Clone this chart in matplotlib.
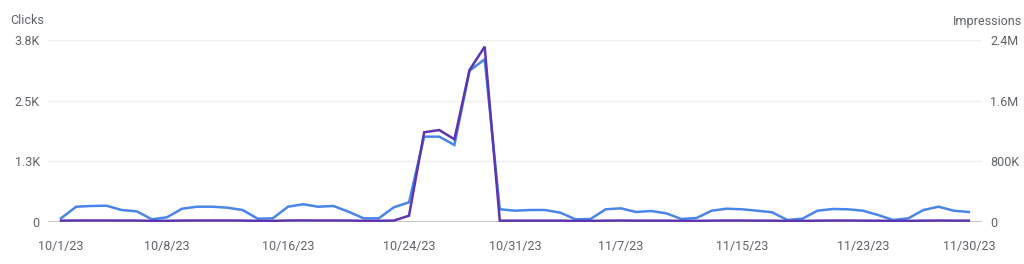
import pandas as pd
import matplotlib.pyplot as plt

plt.rcParams['font.family'] = ['Roboto', 'DejaVu Sans']

dates = pd.date_range('2023-10-01', '2023-11-30', freq='D')

clicks = [76, 315, 330, 336, 247, 220, 56, 97, 274, 315,
          315, 295, 247, 68, 76, 315, 365, 315, 330, 212,
          76, 76, 303, 406, 1758, 1758, 1587, 3118, 3352, 262,
          233, 247, 247, 192, 56, 62, 262, 282, 206, 227,
          179, 62, 82, 233, 274, 262, 233, 200, 41, 68,
          233, 268, 262, 233, 144, 41, 76, 247, 315, 233,
          206]

impressions = [18000, 20000, 20000, 20000, 19000, 19000, 15000, 16000, 19000, 20000,
               20000, 20000, 19000, 15000, 15000, 20000, 21000, 20000, 20000, 19000,
               16000, 16000, 19000, 83000, 1183000, 1213000, 1090000, 2004000, 2312000, 17000,
               18000, 18000, 18000, 18000, 15000, 15000, 18000, 19000, 18000, 18000,
               18000, 15000, 15000, 18000, 19000, 19000, 18000, 18000, 14000, 15000,
               18000, 19000, 19000, 18000, 17000, 14000, 15000, 18000, 19000, 18000,
               18000]

click_ticks = [0, 1250, 2500, 3750]
click_labels = ['0', '1.3K', '2.5K', '3.8K']
imp_ticks = [0, 800000, 1600000, 2400000]
imp_labels = ['0', '800K', '1.6M', '2.4M']
date_ticks = ['2023-10-01', '2023-10-08', '2023-10-16', '2023-10-24', '2023-10-31',
              '2023-11-07', '2023-11-15', '2023-11-23', '2023-11-30']

blue = '#4a86e8'
purple = '#5e35b1'
text_col = '#5f6368'

fig = plt.figure(figsize=(10.24, 2.64), dpi=100)
ax = fig.add_axes([48 / 1024, 42 / 264, 934 / 1024, 182 / 264])
ax2 = ax.twinx()

ax.plot(dates, clicks, color=blue, lw=1.8, solid_joinstyle='miter')
ax2.plot(dates, impressions, color=purple, lw=1.8, solid_joinstyle='miter')

ax.set_xlim(dates[0] - pd.Timedelta(days=0.86), dates[-1] + pd.Timedelta(days=0.87))
ax.set_ylim(0, 3750)
ax2.set_ylim(0, 2400000)

ax.set_yticks(click_ticks)
ax.set_yticklabels(click_labels)
ax2.set_yticks(imp_ticks)
ax2.set_yticklabels(imp_labels)
tick_dates = pd.to_datetime(date_ticks)
ax.set_xticks(tick_dates)
ax.set_xticklabels([f'{d.month}/{d.day}/23' for d in tick_dates])

for a in (ax, ax2):
    for s in a.spines.values():
        s.set_visible(False)
    a.tick_params(length=0, labelsize=9, colors=text_col)
ax.tick_params(axis='y', pad=6)
ax2.tick_params(axis='y', pad=6)
ax.tick_params(axis='x', pad=13)

ax.grid(axis='y', color='#eeeeee', lw=1)
ax.grid(axis='x', visible=False)
ax.axhline(0, color='#bdbdbd', lw=1.5, zorder=1)
ax.set_zorder(ax2.get_zorder() - 1)
ax.patch.set_visible(False)

fig.text(10 / 1024, 1 - 21 / 264, 'Clicks', fontsize=9, color=text_col, va='center', ha='left')
fig.text(1022 / 1024, 1 - 21 / 264, 'Impressions', fontsize=9, color=text_col, va='center', ha='right')

fig.savefig('out.png', dpi=100)
